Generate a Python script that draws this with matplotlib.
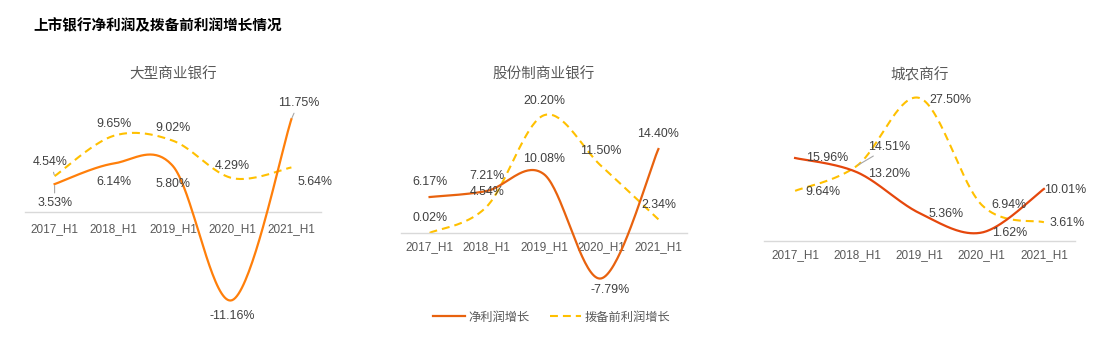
import matplotlib
matplotlib.use("Agg")
import matplotlib.pyplot as plt
from matplotlib.lines import Line2D
import numpy as np

plt.rcParams['font.family'] = ['Liberation Sans', 'Noto Sans CJK SC', 'DejaVu Sans']

# --- data ---
periods = ["2017_H1", "2018_H1", "2019_H1", "2020_H1", "2021_H1"]
panel_titles = ["大型商业银行", "股份制商业银行", "城农商行"]
net_big = [3.53, 6.14, 5.80, -11.16, 11.75]
pre_big = [4.54, 9.65, 9.02, 4.29, 5.64]
net_joint = [6.17, 7.21, 10.08, -7.79, 14.40]
pre_joint = [0.02, 4.54, 20.20, 11.50, 2.34]
net_city = [15.96, 13.20, 5.36, 1.62, 10.01]
pre_city = [9.64, 14.51, 27.50, 6.94, 3.61]
series_names = ["净利润增长", "拨备前利润增长"]

W, H = 1119, 345
YELLOW = "#FFC000"
TXT = "#404040"
GRAY = "#595959"
DASH = (3.8, 2.4)


def smooth(xs, ys, n=40):
    # excel-like smoothed line (catmull-rom as bezier)
    p = np.column_stack([xs, ys]).astype(float)
    pts = np.vstack([p[0], p, p[-1]])
    out = []
    t = np.linspace(0, 1, n)[:, None]
    for i in range(1, len(pts) - 2):
        p0, p1, p2, p3 = pts[i - 1], pts[i], pts[i + 1], pts[i + 2]
        c1 = p1 + (p2 - p0) / 6
        c2 = p2 - (p3 - p1) / 6
        seg = ((1 - t) ** 3) * p1 + 3 * ((1 - t) ** 2) * t * c1 + 3 * (1 - t) * t ** 2 * c2 + t ** 3 * p2
        out.append(seg)
    out = np.vstack(out)
    return out[:, 0], out[:, 1]


def px_axes(fig, x0, x1, ytop, ybot):
    return fig.add_axes([x0 / W, 1 - ybot / H, (x1 - x0) / W, (ybot - ytop) / H])


fig = plt.figure(figsize=(W / 100, H / 100), dpi=100)

panels = [
    dict(net=net_big, pre=pre_big, color="#FF7F0A", box=(25, 321, 95, 330),
         ylim=(-14.94, 14.81), pad=8.0,
         net_off=[(0, -19), (0, -19), (0, -18), (0, -16), (7, 16)],
         pre_off=[(-4, 14), (0, 12), (0, 13), (0, 12), (24, -15)],
         net_lead=[True, False, False, False, True],
         pre_lead=[True, False, False, False, False]),
    dict(net=net_joint, pre=pre_joint, color="#E8620E", box=(401, 687, 95, 300),
         ylim=(-11.49, 23.67), pad=6.0,
         net_off=[(0, 15), (0, 15), (0, 15), (9, -12), (0, 15)],
         pre_off=[(0, 15), (0, 15), (0, 14), (0, 15), (0, 14)],
         net_lead=[False] * 5, pre_lead=[False] * 5),
    dict(net=net_city, pre=pre_city, color="#E5470C", box=(764, 1075, 90, 300),
         ylim=(-11.35, 29.04), pad=5.5,
         net_off=[(32, 0), (32, -2), (27, -1), (28, 0), (21, -1)],
         pre_off=[(28, -1), (32, 19), (31, -2), (27, 0), (23, -1)],
         net_lead=[False] * 5, pre_lead=[False, True, False, False, False]),
]

x = np.arange(len(periods))
for k, pn in enumerate(panels):
    x0, x1, yt, yb = pn["box"]
    ax = px_axes(fig, x0, x1, yt, yb)
    ax.set_xlim(-0.5, len(periods) - 0.5)
    ax.set_ylim(*pn["ylim"])
    for s in ["left", "right", "top"]:
        ax.spines[s].set_visible(False)
    ax.spines["bottom"].set_position(("data", 0))
    ax.spines["bottom"].set_color("#D9D9D9")
    ax.spines["bottom"].set_linewidth(1.0)
    ax.set_yticks([])
    ax.set_xticks(x)
    ax.set_xticklabels(periods, fontsize=8.5, color=GRAY)
    ax.tick_params(axis="x", length=0, pad=pn["pad"])
    ax.patch.set_alpha(0)

    sx, sy = smooth(x, pn["pre"])
    ax.plot(sx, sy, color=YELLOW, lw=1.5, dashes=DASH, clip_on=False, zorder=2)
    sx, sy = smooth(x, pn["net"])
    ax.plot(sx, sy, color=pn["color"], lw=1.6, clip_on=False, zorder=3)

    for vals, offs, leads in [(pn["net"], pn["net_off"], pn["net_lead"]),
                              (pn["pre"], pn["pre_off"], pn["pre_lead"])]:
        for i, v in enumerate(vals):
            dx, dy = offs[i]
            kw = {}
            if leads[i]:
                kw["arrowprops"] = dict(arrowstyle="-", color="#A6A6A6", lw=0.8,
                                        shrinkA=1, shrinkB=1)
            ax.annotate(f"{v:.2f}%", (x[i], v), xytext=(dx, dy), textcoords="offset pixels",
                        ha="center", va="center", fontsize=8.9, color=TXT,
                        annotation_clip=False, zorder=5, **kw)

    fig.text(((x0 + x1) / 2) / W, 1 - 75 / H, panel_titles[k], ha="center", va="center",
             fontsize=10.5, color=GRAY, family=["Noto Sans CJK SC", "DejaVu Sans"])

fig.text(33 / W, 1 - 25 / H, "上市银行净利润及拨备前利润增长情况", ha="left", va="center",
         fontsize=10.5, fontweight="bold", color="black",
         family=["Noto Sans CJK SC", "DejaVu Sans"])

handles = [Line2D([], [], color="#E8620E", lw=1.6),
           Line2D([], [], color=YELLOW, lw=1.5, dashes=DASH)]
fig.legend(handles, series_names, loc="center", bbox_to_anchor=(552 / W, 1 - 317 / H),
           ncol=2, frameon=False, handlelength=2.6, columnspacing=1.6, handletextpad=0.3,
           prop=dict(family=["Noto Sans CJK SC", "DejaVu Sans"], size=8.8), labelcolor=GRAY)

fig.savefig("out.png", dpi=100, facecolor="white")
